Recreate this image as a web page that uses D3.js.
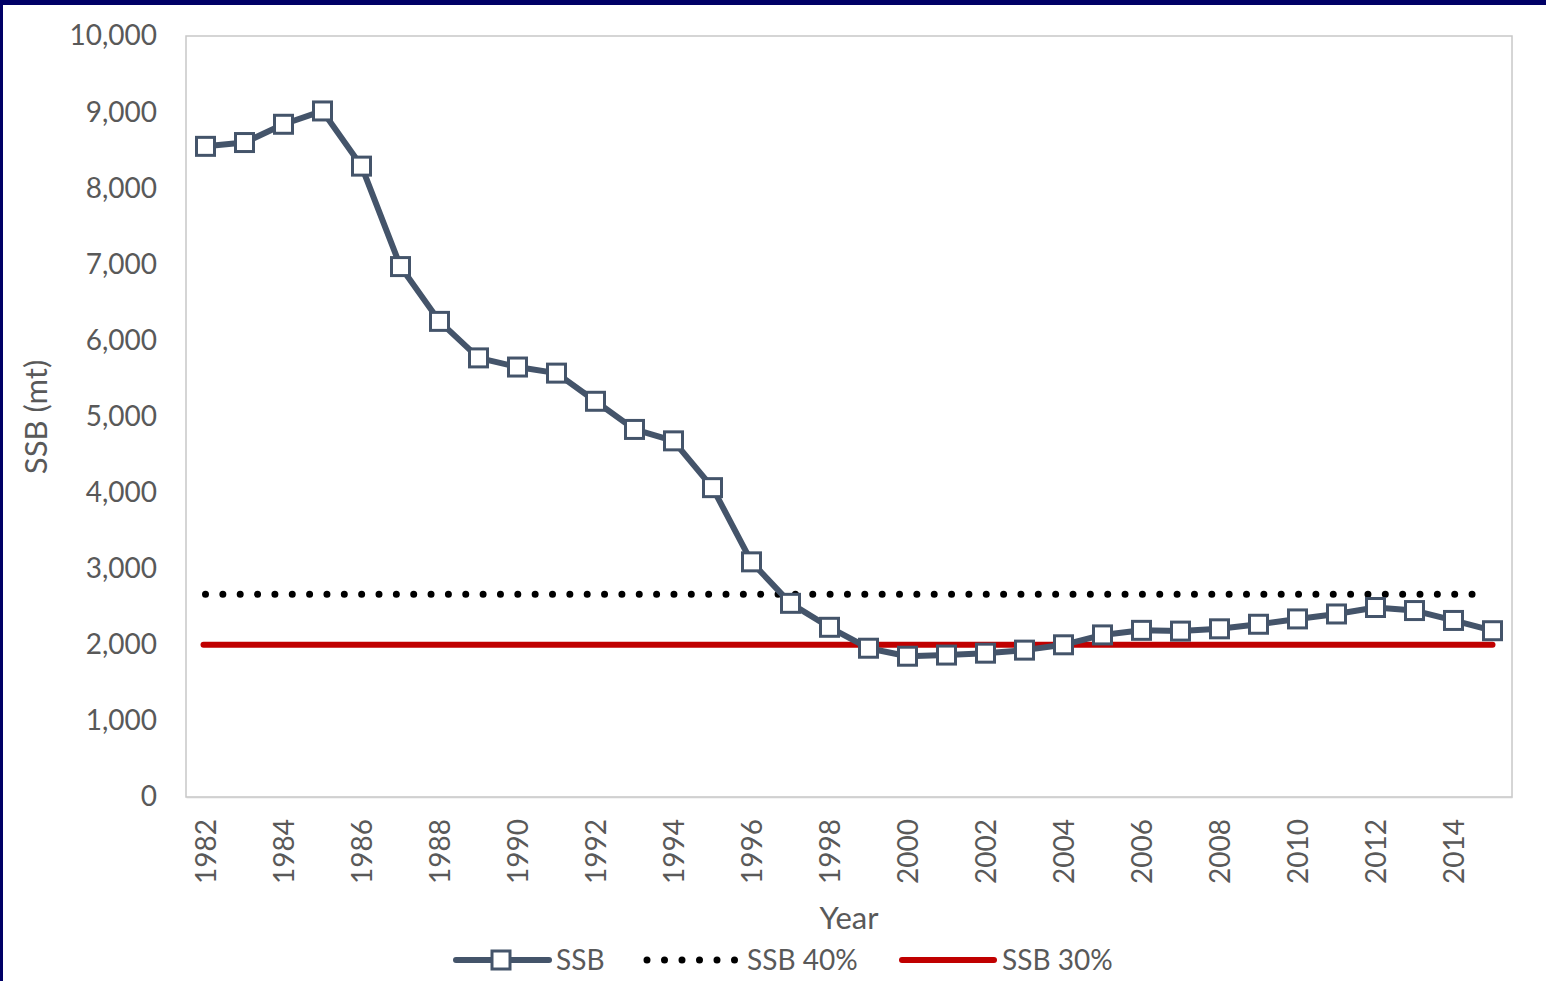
<!DOCTYPE html>
<html>
<head>
<meta charset="utf-8">
<script src="https://cdn.jsdelivr.net/npm/d3@7"></script>
<style>
  body { margin: 0; background: #fff; }
  #chart { width: 1546px; height: 981px; }
  text { font-family: Lato, "Open Sans", sans-serif; fill: #595959; }
</style>
</head>
<body>
<div id="chart"></div>
<script>
(function() {
  var width = 1546, height = 981;
  var margin = { top: 36, left: 186, right: 34, bottom: 184 };

  // data
  var years = d3.range(1982, 2016);
  var ssb = [8550, 8600, 8840, 9015, 8290, 6970, 6250, 5770, 5650, 5570,
             5200, 4830, 4680, 4065, 3090, 2545, 2230, 1955, 1850, 1865,
             1890, 1930, 2000, 2130, 2190, 2180, 2210, 2270, 2340, 2405,
             2490, 2450, 2320, 2185];
  var ssb40 = 2665;
  var ssb30 = 2000;
  var yTicks = [0, 1000, 2000, 3000, 4000, 5000, 6000, 7000, 8000, 9000, 10000];
  var xTickYears = years.filter(function(y) { return (y - 1982) % 2 === 0; });

  var svg = d3.select("#chart")
    .append("svg")
    .attr("width", width)
    .attr("height", height);

  // navy frame (top and left)
  svg.append("rect").attr("x", 0).attr("y", 0).attr("width", width).attr("height", 5).attr("fill", "#000066");
  svg.append("rect").attr("x", 0).attr("y", 0).attr("width", 3).attr("height", height).attr("fill", "#000066");

  var x = d3.scalePoint()
    .domain(years)
    .range([margin.left, width - margin.right])
    .padding(0.5);

  var y = d3.scaleLinear()
    .domain([0, 10000])
    .range([height - margin.bottom, margin.top]);

  // plot area border
  svg.append("rect")
    .attr("x", margin.left)
    .attr("y", margin.top)
    .attr("width", width - margin.left - margin.right)
    .attr("height", height - margin.top - margin.bottom)
    .attr("fill", "none")
    .attr("stroke", "#c8c8c8")
    .attr("stroke-width", 1.5);

  // y axis
  var yAxis = svg.append("g")
    .attr("transform", "translate(" + margin.left + ",0)")
    .call(d3.axisLeft(y).tickValues(yTicks).tickSize(0).tickPadding(29).tickFormat(d3.format(",")));
  yAxis.select(".domain").remove();
  yAxis.selectAll("text").style("font-size", "28px").attr("fill", "#595959");

  // x axis
  var xAxis = svg.append("g")
    .attr("transform", "translate(0," + (height - margin.bottom) + ")")
    .call(d3.axisBottom(x).tickValues(xTickYears).tickSize(0));
  xAxis.select(".domain").attr("stroke", "#d0d0d0").attr("stroke-width", 1.5);
  xAxis.selectAll("text")
    .style("font-size", "28px")
    .attr("fill", "#595959")
    .attr("text-anchor", "end")
    .attr("dy", "0.35em")
    .attr("transform", "translate(0,22) rotate(-90)")
    .attr("x", 0)
    .attr("y", 0);

  // axis titles
  svg.append("text")
    .attr("transform", "translate(47,417) rotate(-90)")
    .attr("text-anchor", "middle")
    .style("font-size", "31px")
    .text("SSB (mt)");

  svg.append("text")
    .attr("x", 849)
    .attr("y", 929)
    .attr("text-anchor", "middle")
    .style("font-size", "31px")
    .text("Year");

  // reference lines
  svg.append("line")
    .attr("x1", x(years[0])).attr("x2", x(years[years.length - 1]) - 4)
    .attr("y1", y(ssb40)).attr("y2", y(ssb40))
    .attr("stroke", "#000")
    .attr("stroke-width", 7)
    .attr("stroke-linecap", "round")
    .attr("stroke-dasharray", "0 17.35");

  svg.append("line")
    .attr("x1", x(years[0]) - 2).attr("x2", x(years[years.length - 1]))
    .attr("y1", y(ssb30)).attr("y2", y(ssb30))
    .attr("stroke", "#c00000")
    .attr("stroke-width", 6)
    .attr("stroke-linecap", "round");

  // SSB series
  var line = d3.line()
    .x(function(d, i) { return x(years[i]); })
    .y(function(d) { return y(d); });

  svg.append("path")
    .datum(ssb)
    .attr("d", line)
    .attr("fill", "none")
    .attr("stroke", "#44546a")
    .attr("stroke-width", 6)
    .attr("stroke-linejoin", "round");

  svg.selectAll(".ssb-marker")
    .data(ssb)
    .enter().append("rect")
    .attr("class", "ssb-marker")
    .attr("x", function(d, i) { return x(years[i]) - 9; })
    .attr("y", function(d) { return y(d) - 9; })
    .attr("width", 18)
    .attr("height", 18)
    .attr("fill", "#fff")
    .attr("stroke", "#44546a")
    .attr("stroke-width", 3);

  // legend
  var ly = 960;
  var legend = svg.append("g");
  legend.append("line")
    .attr("x1", 456).attr("x2", 549).attr("y1", ly).attr("y2", ly)
    .attr("stroke", "#44546a").attr("stroke-width", 6).attr("stroke-linecap", "round");
  legend.append("rect")
    .attr("x", 492).attr("y", ly - 9).attr("width", 18).attr("height", 18)
    .attr("fill", "#fff").attr("stroke", "#44546a").attr("stroke-width", 3);
  legend.append("text").attr("x", 556).attr("y", ly).attr("dy", "0.35em")
    .style("font-size", "28px").text("SSB");

  legend.append("line")
    .attr("x1", 647).attr("x2", 737).attr("y1", ly).attr("y2", ly)
    .attr("stroke", "#000").attr("stroke-width", 7).attr("stroke-linecap", "round")
    .attr("stroke-dasharray", "0 17.5");
  legend.append("text").attr("x", 747).attr("y", ly).attr("dy", "0.35em")
    .style("font-size", "28px").text("SSB 40%");

  legend.append("line")
    .attr("x1", 902).attr("x2", 994).attr("y1", ly).attr("y2", ly)
    .attr("stroke", "#c00000").attr("stroke-width", 6).attr("stroke-linecap", "round");
  legend.append("text").attr("x", 1002).attr("y", ly).attr("dy", "0.35em")
    .style("font-size", "28px").text("SSB 30%");
})();
</script>
</body>
</html>
